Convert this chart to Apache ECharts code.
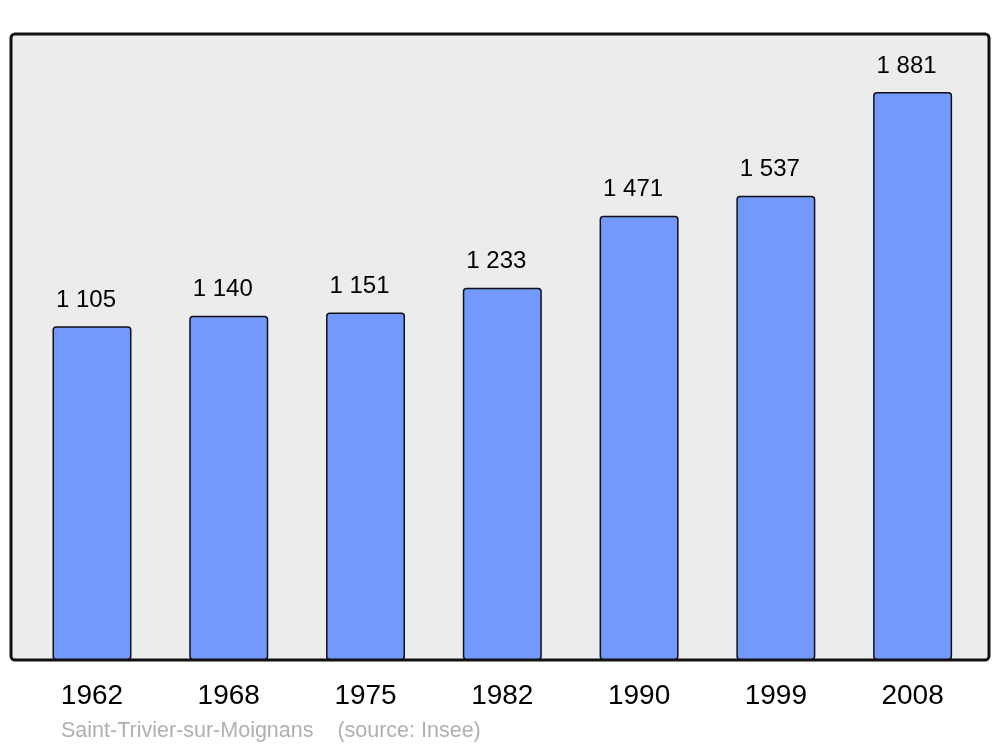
<!DOCTYPE html>
<html><head><meta charset="utf-8">
<script src="https://cdn.jsdelivr.net/npm/echarts@6/dist/echarts.min.js"></script>
<style>html,body{margin:0;padding:0;background:#fff}#c{width:1000px;height:747px}</style>
</head><body><div id="c"></div>
<script>
const years = ['1962','1968','1975','1982','1990','1999','2008'];
const population = [1105,1140,1151,1233,1471,1537,1881];
const footer = 'Saint-Trivier-sur-Moignans    (source: Insee)';

const fmt = v => String(v).replace(/\B(?=(\d{3})+(?!\d))/g, ' ');
const chart = echarts.init(document.getElementById('c'), null, {renderer:'canvas'});
chart.setOption({
  animation:false,
  backgroundColor:'#fff',
  textStyle:{fontFamily:'Liberation Sans, Arial, sans-serif'},
  graphic:[
    {type:'rect', z:-10, shape:{x:11,y:34,width:978,height:626,r:4},
     style:{fill:'#ececec',stroke:'#111',lineWidth:3}},
    {type:'text', left:61, top:720, style:{text:footer, fill:'#b0b0b0', font:'21.5px "Liberation Sans", Arial, sans-serif'}}
  ],
  grid:{left:23.6,right:19,top:34,bottom:87},
  xAxis:{type:'category',data:years,
    axisLine:{show:false},axisTick:{show:false},
    axisLabel:{color:'#000',fontSize:28,margin:22,fontFamily:'Liberation Sans, Arial, sans-serif'}},
  yAxis:{type:'value',min:0,max:2073,show:false,splitLine:{show:false}},
  series:[{type:'bar',data:population,barWidth:79,
    itemStyle:{color:'#7399ff',borderColor:'#111',borderWidth:1.5,borderRadius:3},
    label:{show:true,position:'top',distance:14,offset:[-6,0],color:'#000',fontSize:24,
      fontFamily:'Liberation Sans, Arial, sans-serif',formatter:p=>fmt(p.value)}}]
});
</script></body></html>
